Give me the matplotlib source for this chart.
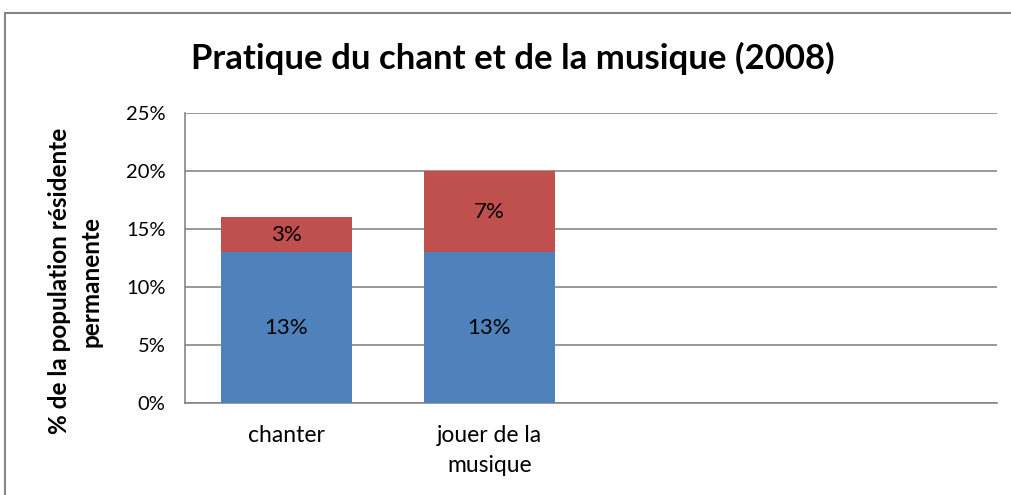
import matplotlib.pyplot as plt
from matplotlib.patches import Rectangle

# chart data (percent of permanent resident population)
categories = ['chanter', 'jouer de la\nmusique', '', '']
bottom_vals = [13, 13]
top_vals = [3, 7]
bottom_labels = ['13%', '13%']
top_labels = ['3%', '7%']
y_ticks = [0, 5, 10, 15, 20, 25]

blue = '#4F81BD'
red = '#C0504D'
grid_gray = '#868686'

plt.rcParams['font.family'] = ['Lato', 'DejaVu Sans']

W, H = 1011, 495
fig = plt.figure(figsize=(W / 100, H / 100), dpi=100)

# outer chart border (runs off the right and bottom edges)
fig.patches.append(Rectangle((5 / W, -0.1), 1.2, 1 - 13 / H + 0.1, transform=fig.transFigure,
                             fill=False, edgecolor=grid_gray, linewidth=1.5))

ax = fig.add_axes([185 / W, 1 - 403 / H, (997 - 185) / W, (403 - 113) / H])

x = list(range(len(categories)))
n = len(bottom_vals)
ax.bar(x[:n], bottom_vals, width=0.645, color=blue, zorder=3)
ax.bar(x[:n], top_vals, width=0.645, bottom=bottom_vals, color=red, zorder=3)

for i in range(n):
    ax.text(x[i], bottom_vals[i] / 2, bottom_labels[i], ha='center', va='center', fontsize=16, zorder=4)
    ax.text(x[i], bottom_vals[i] + top_vals[i] / 2, top_labels[i], ha='center', va='center', fontsize=16, zorder=4)

ax.set_xlim(-0.5, len(categories) - 0.5)
ax.set_ylim(0, 25)
ax.set_yticks(y_ticks)
ax.set_yticklabels([f'{v}%' for v in y_ticks], fontsize=14.5)
ax.set_xticks(x)
ax.set_xticklabels(categories, fontsize=16.5, linespacing=1.5)
ax.tick_params(axis='both', length=0)
ax.tick_params(axis='y', pad=14)
ax.tick_params(axis='x', pad=16)

ax.yaxis.grid(True, color=grid_gray, linewidth=1.2, zorder=0)
for s in ['top', 'right']:
    ax.spines[s].set_visible(False)
for s in ['left', 'bottom']:
    ax.spines[s].set_color(grid_gray)
    ax.spines[s].set_linewidth(1.2)

ax.set_ylabel('% de la population résidente\npermanente', fontsize=17.5, fontweight='bold', linespacing=1.45)
ax.yaxis.set_label_coords(-0.101, 0.42)

fig.text(513 / W, 1 - 58 / H, 'Pratique du chant et de la musique (2008)', ha='center', va='center',
         fontsize=25, fontweight='bold')

fig.savefig('out.png', dpi=100)
